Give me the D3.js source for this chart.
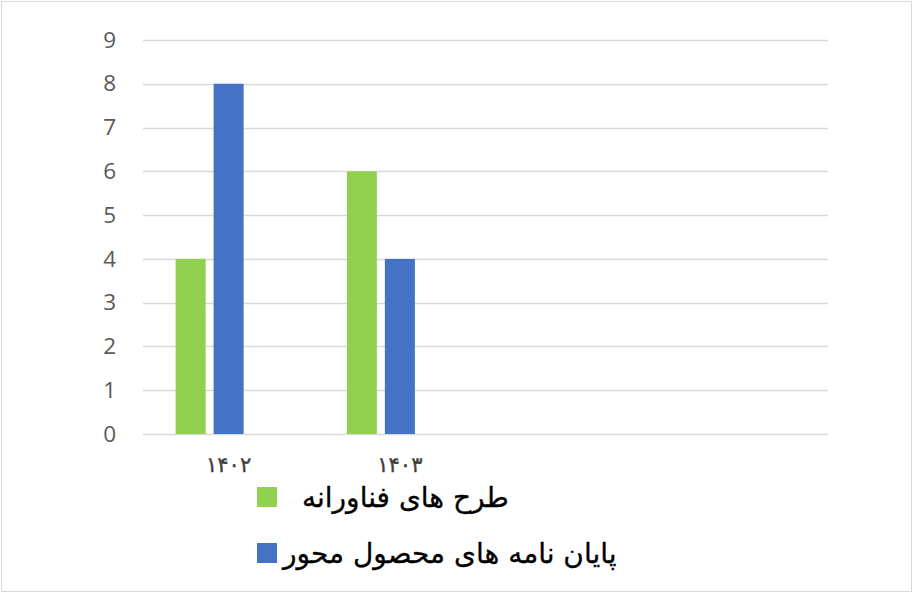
<!DOCTYPE html>
<html>
<head>
<meta charset="utf-8">
<script src="https://cdn.jsdelivr.net/npm/d3@7"></script>
<style>
  html, body { margin: 0; padding: 0; background: #fff; }
  svg { display: block; }
</style>
</head>
<body>
<svg id="chart" width="914" height="595"></svg>
<script>
// Category axis (Persian years); the last two slots are empty placeholders
const categories = ["۱۴۰۲", "۱۴۰۳", "", ""];
// Series names, as shown in the legend (third series is unnamed and empty)
const seriesNames = ["طرح های فناورانه", "پایان نامه های محصول محور", ""];
const seriesColors = ["#92d050", "#4472c4", "#a5a5a5"];
// Values per series, one per category
const techProjects = [4, 6, null, null];
const productTheses = [8, 4, null, null];
const emptySeries = [null, null, null, null];
const seriesValues = [techProjects, productTheses, emptySeries];
// Y axis ticks
const yTicks = [0, 1, 2, 3, 4, 5, 6, 7, 8, 9];

const svg = d3.select("#chart");

// Outer frame
svg.append("rect")
  .attr("x", 1.5).attr("y", 1.5)
  .attr("width", 910).attr("height", 590)
  .attr("fill", "#fff")
  .attr("stroke", "#d9d9d9")
  .attr("stroke-width", 1);

const plot = { left: 143, right: 828, top: 40, bottom: 434 };

const y = d3.scaleLinear().domain([0, 9]).range([plot.bottom, plot.top]);
const x0 = d3.scaleBand()
  .domain(d3.range(categories.length))
  .range([plot.left, plot.right])
  .paddingInner(0).paddingOuter(0);
const x1 = d3.scaleBand()
  .domain(d3.range(seriesNames.length))
  .range([0, x0.bandwidth()])
  .paddingInner(0.21).paddingOuter(0.858);

// Gridlines
svg.append("g")
  .selectAll("line")
  .data(yTicks)
  .join("line")
  .attr("x1", plot.left).attr("x2", plot.right)
  .attr("y1", d => Math.round(y(d)) + 0.5)
  .attr("y2", d => Math.round(y(d)) + 0.5)
  .attr("stroke", "#d9d9d9")
  .attr("stroke-width", 1.3);

// Y axis labels
const yAxis = d3.axisLeft(y).tickValues(yTicks).tickSize(0).tickPadding(0).tickFormat(d3.format("d"));
const yG = svg.append("g")
  .attr("transform", `translate(${plot.left - 27},0)`)
  .call(yAxis);
yG.select(".domain").remove();
yG.selectAll("text")
  .attr("fill", "#595959")
  .attr("font-family", "'Open Sans', 'Noto Sans', sans-serif")
  .attr("font-size", 22.5);

// Bars
const groups = svg.append("g")
  .selectAll("g")
  .data(categories.map((c, i) => i))
  .join("g")
  .attr("transform", i => `translate(${x0(i)},0)`);

groups.selectAll("rect")
  .data(i => seriesValues.map((vals, s) => ({ s, v: vals[i] })).filter(d => d.v != null))
  .join("rect")
  .attr("x", d => x1(d.s))
  .attr("width", x1.bandwidth())
  .attr("y", d => y(d.v))
  .attr("height", d => y(0) - y(d.v))
  .attr("fill", d => seriesColors[d.s]);

// Category labels
const xAxis = d3.axisBottom(x0).tickSize(0).tickPadding(0).tickFormat(i => categories[i]);
const xG = svg.append("g")
  .attr("transform", `translate(0,${plot.bottom + 31})`)
  .call(xAxis);
xG.select(".domain").remove();
xG.selectAll("text")
  .attr("fill", "#404040")
  .attr("font-family", "'DejaVu Sans', sans-serif")
  .attr("font-size", 21)
  .attr("stroke", "#404040")
  .attr("stroke-width", 0.4)
  .attr("letter-spacing", 6)
  .attr("dy", "0.35em");

// Legend (only named series)
const legendRows = [
  { s: 0, y: 497, textX: 302 },
  { s: 1, y: 553, textX: 283 }
];
const legend = svg.append("g");
legend.selectAll("rect")
  .data(legendRows)
  .join("rect")
  .attr("x", 257).attr("y", d => d.y - 10)
  .attr("width", 20).attr("height", 20)
  .attr("fill", d => seriesColors[d.s]);
legend.selectAll("text")
  .data(legendRows)
  .join("text")
  .attr("x", d => d.textX)
  .attr("y", d => d.y)
  .attr("dy", "0.35em")
  .attr("font-family", "'DejaVu Sans', sans-serif")
  .attr("font-size", 28)
  .attr("fill", "#000")
  .attr("stroke", "#000")
  .attr("stroke-width", 0.3)
  .text(d => seriesNames[d.s]);
</script>
</body>
</html>
